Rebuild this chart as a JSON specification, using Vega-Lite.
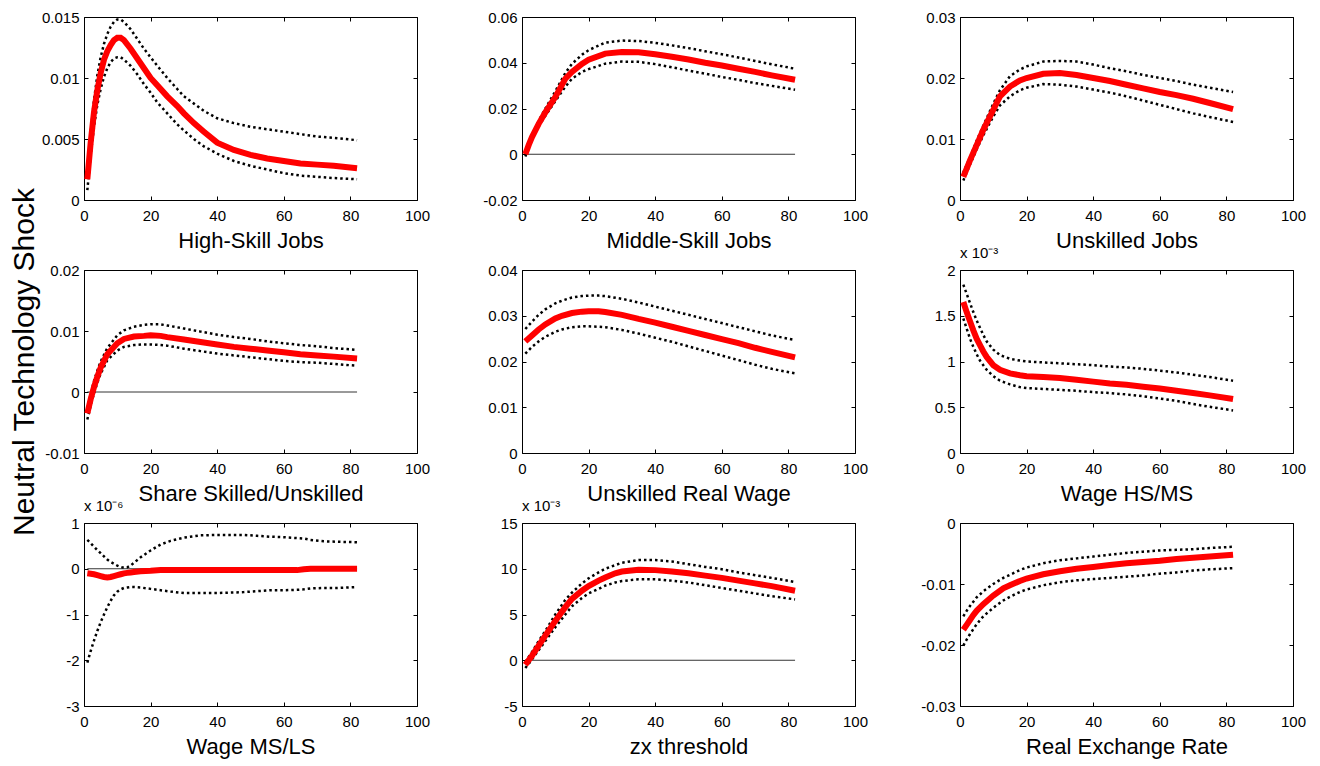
{
"$schema":"https://vega.github.io/schema/vega-lite/v6.json",
"background":"white",
"padding":{"left":9,"top":9,"right":5,"bottom":5},
"columns":3,
"spacing":{"row":70,"column":105},
"bounds":"flush",
"config":{
"view":{"stroke":"black","strokeWidth":1},
"axis":{"domain":false,"grid":false,"tickColor":"black","tickSize":-4,"tickWidth":1,"labelPadding":9,"labelFont":"Liberation Sans","labelFontSize":15,"labelColor":"black","labelFlush":false,"labelOverlap":false,"labelBound":false,"titleFont":"Liberation Sans","titleFontSize":22,"titleFontWeight":"normal","titleColor":"black"},
"axisBottom":{"labelPadding":12,"titlePadding":7},
"axisTop":{"labels":false},
"axisRight":{"labels":false},
"line":{"strokeCap":"butt"}
},
"datasets":{"irf":[
{"p":1,"x":1,"mid":0.0017,"hi":0.0025,"lo":0.0008},{"p":1,"x":2,"mid":0.0047,"hi":0.0055,"lo":0.0037},{"p":1,"x":3,"mid":0.0072,"hi":0.0082,"lo":0.0060},{"p":1,"x":4,"mid":0.0090,"hi":0.0102,"lo":0.0078},{"p":1,"x":5,"mid":0.0104,"hi":0.0117,"lo":0.0091},{"p":1,"x":6,"mid":0.0115,"hi":0.0128,"lo":0.0101},{"p":1,"x":7,"mid":0.0122,"hi":0.0136,"lo":0.0108},{"p":1,"x":8,"mid":0.0127,"hi":0.0142,"lo":0.0113},{"p":1,"x":9,"mid":0.0131,"hi":0.0146,"lo":0.0116},{"p":1,"x":10,"mid":0.0133,"hi":0.0148,"lo":0.0117},{"p":1,"x":11,"mid":0.0133,"hi":0.0148,"lo":0.0117},{"p":1,"x":12,"mid":0.0131,"hi":0.0146,"lo":0.0115},{"p":1,"x":14,"mid":0.0124,"hi":0.0140,"lo":0.0110},{"p":1,"x":16,"mid":0.0116,"hi":0.0132,"lo":0.0103},{"p":1,"x":18,"mid":0.0108,"hi":0.0124,"lo":0.0095},{"p":1,"x":20,"mid":0.0100,"hi":0.0117,"lo":0.0088},{"p":1,"x":22,"mid":0.0094,"hi":0.0110,"lo":0.0080},{"p":1,"x":25,"mid":0.0085,"hi":0.0100,"lo":0.0071},{"p":1,"x":28,"mid":0.0077,"hi":0.0091,"lo":0.0062},{"p":1,"x":30,"mid":0.0071,"hi":0.0085,"lo":0.0057},{"p":1,"x":33,"mid":0.0063,"hi":0.0079,"lo":0.0050},{"p":1,"x":36,"mid":0.0056,"hi":0.0073,"lo":0.0044},{"p":1,"x":40,"mid":0.0047,"hi":0.0067,"lo":0.0038},{"p":1,"x":45,"mid":0.0041,"hi":0.0063,"lo":0.0032},{"p":1,"x":50,"mid":0.0037,"hi":0.0060,"lo":0.0028},{"p":1,"x":55,"mid":0.0034,"hi":0.0058,"lo":0.0025},{"p":1,"x":60,"mid":0.0032,"hi":0.0056,"lo":0.0022},{"p":1,"x":65,"mid":0.0030,"hi":0.0054,"lo":0.0020},{"p":1,"x":70,"mid":0.0029,"hi":0.0052,"lo":0.0019},{"p":1,"x":75,"mid":0.0028,"hi":0.0051,"lo":0.0018},{"p":1,"x":82,"mid":0.0026,"hi":0.0049,"lo":0.0017},
{"p":2,"x":1,"mid":0,"hi":0,"lo":-0.001},{"p":2,"x":2,"mid":0.004,"hi":0.0042,"lo":0.003},{"p":2,"x":3,"mid":0.0075,"hi":0.008,"lo":0.0068},{"p":2,"x":5,"mid":0.0133,"hi":0.0145,"lo":0.0122},{"p":2,"x":7,"mid":0.0183,"hi":0.020,"lo":0.0168},{"p":2,"x":10,"mid":0.0250,"hi":0.0275,"lo":0.0232},{"p":2,"x":13,"mid":0.0330,"hi":0.0355,"lo":0.0295},{"p":2,"x":15,"mid":0.0360,"hi":0.0395,"lo":0.0330},{"p":2,"x":18,"mid":0.0395,"hi":0.0435,"lo":0.0360},{"p":2,"x":20,"mid":0.0413,"hi":0.0455,"lo":0.0372},{"p":2,"x":25,"mid":0.0440,"hi":0.0488,"lo":0.0396},{"p":2,"x":30,"mid":0.0447,"hi":0.0497,"lo":0.0405},{"p":2,"x":35,"mid":0.0446,"hi":0.0495,"lo":0.0404},{"p":2,"x":40,"mid":0.0437,"hi":0.0487,"lo":0.0394},{"p":2,"x":45,"mid":0.0426,"hi":0.0476,"lo":0.0380},{"p":2,"x":50,"mid":0.0414,"hi":0.0464,"lo":0.0366},{"p":2,"x":55,"mid":0.0400,"hi":0.0450,"lo":0.0352},{"p":2,"x":60,"mid":0.0388,"hi":0.0437,"lo":0.0338},{"p":2,"x":65,"mid":0.0374,"hi":0.0423,"lo":0.0325},{"p":2,"x":70,"mid":0.0360,"hi":0.0408,"lo":0.0311},{"p":2,"x":75,"mid":0.0345,"hi":0.0393,"lo":0.0299},{"p":2,"x":82,"mid":0.0326,"hi":0.0374,"lo":0.0282},
{"p":3,"x":1,"mid":0.0038,"hi":0.0045,"lo":0.0032},{"p":3,"x":3,"mid":0.0065,"hi":0.0070,"lo":0.0058},{"p":3,"x":5,"mid":0.0090,"hi":0.0097,"lo":0.0083},{"p":3,"x":7,"mid":0.0115,"hi":0.0122,"lo":0.0106},{"p":3,"x":10,"mid":0.0148,"hi":0.0158,"lo":0.0137},{"p":3,"x":12,"mid":0.0170,"hi":0.0180,"lo":0.0155},{"p":3,"x":15,"mid":0.0186,"hi":0.0203,"lo":0.0170},{"p":3,"x":18,"mid":0.0196,"hi":0.0214,"lo":0.0180},{"p":3,"x":20,"mid":0.0200,"hi":0.0219,"lo":0.0184},{"p":3,"x":25,"mid":0.0207,"hi":0.0227,"lo":0.0190},{"p":3,"x":30,"mid":0.0208,"hi":0.0228,"lo":0.0189},{"p":3,"x":35,"mid":0.0205,"hi":0.0227,"lo":0.0186},{"p":3,"x":40,"mid":0.0200,"hi":0.0222,"lo":0.0181},{"p":3,"x":45,"mid":0.0195,"hi":0.0216,"lo":0.0176},{"p":3,"x":50,"mid":0.0189,"hi":0.0211,"lo":0.0170},{"p":3,"x":55,"mid":0.0183,"hi":0.0205,"lo":0.0163},{"p":3,"x":60,"mid":0.0177,"hi":0.0200,"lo":0.0156},{"p":3,"x":65,"mid":0.0172,"hi":0.0195,"lo":0.0149},{"p":3,"x":70,"mid":0.0166,"hi":0.0189,"lo":0.0142},{"p":3,"x":75,"mid":0.0159,"hi":0.0184,"lo":0.0136},{"p":3,"x":82,"mid":0.0149,"hi":0.0177,"lo":0.0128},
{"p":4,"x":1,"mid":-0.0035,"hi":-0.0027,"lo":-0.0045},{"p":4,"x":2,"mid":-0.0012,"hi":-0.0004,"lo":-0.0022},{"p":4,"x":3,"mid":0.0008,"hi":0.0018,"lo":-0.0002},{"p":4,"x":4,"mid":0.0025,"hi":0.0035,"lo":0.0015},{"p":4,"x":5,"mid":0.0040,"hi":0.0050,"lo":0.0030},{"p":4,"x":7,"mid":0.0062,"hi":0.0072,"lo":0.0052},{"p":4,"x":10,"mid":0.0080,"hi":0.0093,"lo":0.0068},{"p":4,"x":12,"mid":0.0087,"hi":0.0101,"lo":0.0074},{"p":4,"x":15,"mid":0.0091,"hi":0.0107,"lo":0.0077},{"p":4,"x":18,"mid":0.0092,"hi":0.0110,"lo":0.0078},{"p":4,"x":20,"mid":0.0093,"hi":0.0111,"lo":0.0078},{"p":4,"x":23,"mid":0.0092,"hi":0.0111,"lo":0.0077},{"p":4,"x":25,"mid":0.0090,"hi":0.0109,"lo":0.0076},{"p":4,"x":30,"mid":0.0086,"hi":0.0104,"lo":0.0071},{"p":4,"x":35,"mid":0.0082,"hi":0.0099,"lo":0.0067},{"p":4,"x":40,"mid":0.0078,"hi":0.0094,"lo":0.0063},{"p":4,"x":45,"mid":0.0074,"hi":0.0090,"lo":0.0060},{"p":4,"x":50,"mid":0.0071,"hi":0.0087,"lo":0.0057},{"p":4,"x":55,"mid":0.0068,"hi":0.0083,"lo":0.0054},{"p":4,"x":60,"mid":0.0065,"hi":0.0080,"lo":0.0051},{"p":4,"x":65,"mid":0.0062,"hi":0.0077,"lo":0.0049},{"p":4,"x":70,"mid":0.0060,"hi":0.0075,"lo":0.0048},{"p":4,"x":75,"mid":0.0058,"hi":0.0072,"lo":0.0046},{"p":4,"x":82,"mid":0.0055,"hi":0.0069,"lo":0.0043},
{"p":5,"x":1,"mid":0.0244,"hi":0.0271,"lo":0.0217},{"p":5,"x":3,"mid":0.0257,"hi":0.0287,"lo":0.0232},{"p":5,"x":5,"mid":0.0270,"hi":0.0302,"lo":0.0244},{"p":5,"x":7,"mid":0.0281,"hi":0.0314,"lo":0.0254},{"p":5,"x":10,"mid":0.0294,"hi":0.0327,"lo":0.0265},{"p":5,"x":12,"mid":0.0300,"hi":0.0333,"lo":0.0270},{"p":5,"x":15,"mid":0.0306,"hi":0.0340,"lo":0.0275},{"p":5,"x":18,"mid":0.0309,"hi":0.0343,"lo":0.0277},{"p":5,"x":20,"mid":0.0310,"hi":0.0344,"lo":0.0277},{"p":5,"x":23,"mid":0.0310,"hi":0.0344,"lo":0.0276},{"p":5,"x":25,"mid":0.0308,"hi":0.0343,"lo":0.0275},{"p":5,"x":30,"mid":0.0302,"hi":0.0337,"lo":0.0269},{"p":5,"x":35,"mid":0.0293,"hi":0.0329,"lo":0.0261},{"p":5,"x":40,"mid":0.0285,"hi":0.0320,"lo":0.0252},{"p":5,"x":45,"mid":0.0276,"hi":0.0311,"lo":0.0243},{"p":5,"x":50,"mid":0.0267,"hi":0.0302,"lo":0.0233},{"p":5,"x":55,"mid":0.0258,"hi":0.0293,"lo":0.0223},{"p":5,"x":60,"mid":0.0249,"hi":0.0284,"lo":0.0213},{"p":5,"x":65,"mid":0.0240,"hi":0.0275,"lo":0.0203},{"p":5,"x":70,"mid":0.0230,"hi":0.0266,"lo":0.0193},{"p":5,"x":75,"mid":0.0221,"hi":0.0257,"lo":0.0184},{"p":5,"x":82,"mid":0.0209,"hi":0.0247,"lo":0.0174},
{"p":6,"x":1,"mid":1.65,"hi":1.84,"lo":1.47},{"p":6,"x":2,"mid":1.54,"hi":1.74,"lo":1.36},{"p":6,"x":3,"mid":1.44,"hi":1.64,"lo":1.25},{"p":6,"x":4,"mid":1.34,"hi":1.54,"lo":1.16},{"p":6,"x":5,"mid":1.25,"hi":1.45,"lo":1.08},{"p":6,"x":6,"mid":1.18,"hi":1.37,"lo":1.01},{"p":6,"x":7,"mid":1.11,"hi":1.29,"lo":0.96},{"p":6,"x":8,"mid":1.05,"hi":1.22,"lo":0.91},{"p":6,"x":10,"mid":0.96,"hi":1.13,"lo":0.84},{"p":6,"x":12,"mid":0.91,"hi":1.07,"lo":0.79},{"p":6,"x":15,"mid":0.87,"hi":1.03,"lo":0.75},{"p":6,"x":18,"mid":0.85,"hi":1.01,"lo":0.72},{"p":6,"x":20,"mid":0.84,"hi":1.00,"lo":0.71},{"p":6,"x":25,"mid":0.83,"hi":0.99,"lo":0.70},{"p":6,"x":30,"mid":0.82,"hi":0.98,"lo":0.69},{"p":6,"x":35,"mid":0.80,"hi":0.97,"lo":0.68},{"p":6,"x":40,"mid":0.78,"hi":0.96,"lo":0.665},{"p":6,"x":45,"mid":0.76,"hi":0.945,"lo":0.655},{"p":6,"x":50,"mid":0.745,"hi":0.935,"lo":0.64},{"p":6,"x":55,"mid":0.725,"hi":0.92,"lo":0.62},{"p":6,"x":60,"mid":0.705,"hi":0.90,"lo":0.595},{"p":6,"x":65,"mid":0.68,"hi":0.88,"lo":0.57},{"p":6,"x":70,"mid":0.655,"hi":0.855,"lo":0.535},{"p":6,"x":75,"mid":0.63,"hi":0.83,"lo":0.505},{"p":6,"x":82,"mid":0.59,"hi":0.79,"lo":0.465},
{"p":7,"x":1,"mid":-0.10,"hi":0.63,"lo":-2.05},{"p":7,"x":2,"mid":-0.11,"hi":0.56,"lo":-1.80},{"p":7,"x":3,"mid":-0.12,"hi":0.48,"lo":-1.57},{"p":7,"x":4,"mid":-0.14,"hi":0.41,"lo":-1.36},{"p":7,"x":5,"mid":-0.16,"hi":0.34,"lo":-1.17},{"p":7,"x":6,"mid":-0.18,"hi":0.27,"lo":-1.00},{"p":7,"x":7,"mid":-0.19,"hi":0.20,"lo":-0.84},{"p":7,"x":8,"mid":-0.18,"hi":0.15,"lo":-0.70},{"p":7,"x":9,"mid":-0.16,"hi":0.11,"lo":-0.58},{"p":7,"x":10,"mid":-0.14,"hi":0.07,"lo":-0.50},{"p":7,"x":11,"mid":-0.12,"hi":0.04,"lo":-0.45},{"p":7,"x":12,"mid":-0.10,"hi":0.02,"lo":-0.42},{"p":7,"x":13,"mid":-0.09,"hi":0.03,"lo":-0.41},{"p":7,"x":14,"mid":-0.08,"hi":0.07,"lo":-0.40},{"p":7,"x":15,"mid":-0.07,"hi":0.13,"lo":-0.40},{"p":7,"x":17,"mid":-0.055,"hi":0.25,"lo":-0.41},{"p":7,"x":20,"mid":-0.045,"hi":0.40,"lo":-0.44},{"p":7,"x":23,"mid":-0.03,"hi":0.53,"lo":-0.47},{"p":7,"x":26,"mid":-0.03,"hi":0.61,"lo":-0.50},{"p":7,"x":30,"mid":-0.03,"hi":0.68,"lo":-0.53},{"p":7,"x":35,"mid":-0.03,"hi":0.73,"lo":-0.53},{"p":7,"x":40,"mid":-0.03,"hi":0.74,"lo":-0.53},{"p":7,"x":45,"mid":-0.03,"hi":0.74,"lo":-0.52},{"p":7,"x":48,"mid":-0.03,"hi":0.74,"lo":-0.51},{"p":7,"x":52,"mid":-0.03,"hi":0.72,"lo":-0.49},{"p":7,"x":56,"mid":-0.03,"hi":0.70,"lo":-0.47},{"p":7,"x":60,"mid":-0.03,"hi":0.69,"lo":-0.47},{"p":7,"x":64,"mid":-0.03,"hi":0.67,"lo":-0.46},{"p":7,"x":66,"mid":-0.01,"hi":0.66,"lo":-0.45},{"p":7,"x":68,"mid":0.0,"hi":0.63,"lo":-0.43},{"p":7,"x":72,"mid":0.0,"hi":0.60,"lo":-0.42},{"p":7,"x":76,"mid":0.0,"hi":0.59,"lo":-0.42},{"p":7,"x":82,"mid":0.0,"hi":0.58,"lo":-0.40},
{"p":8,"x":1,"mid":-0.5,"hi":-0.2,"lo":-0.85},{"p":8,"x":2,"mid":0.0,"hi":0.35,"lo":-0.4},{"p":8,"x":3,"mid":0.5,"hi":0.9,"lo":0.1},{"p":8,"x":5,"mid":1.6,"hi":2.1,"lo":1.1},{"p":8,"x":7,"mid":2.7,"hi":3.2,"lo":2.1},{"p":8,"x":10,"mid":4.3,"hi":5.0,"lo":3.6},{"p":8,"x":13,"mid":5.8,"hi":6.6,"lo":5.0},{"p":8,"x":15,"mid":6.7,"hi":7.4,"lo":5.9},{"p":8,"x":18,"mid":7.6,"hi":8.4,"lo":6.8},{"p":8,"x":20,"mid":8.1,"hi":8.95,"lo":7.3},{"p":8,"x":23,"mid":8.7,"hi":9.6,"lo":7.8},{"p":8,"x":25,"mid":9.05,"hi":10.0,"lo":8.15},{"p":8,"x":28,"mid":9.5,"hi":10.4,"lo":8.5},{"p":8,"x":30,"mid":9.7,"hi":10.65,"lo":8.65},{"p":8,"x":35,"mid":9.9,"hi":10.95,"lo":8.85},{"p":8,"x":40,"mid":9.85,"hi":10.95,"lo":8.85},{"p":8,"x":45,"mid":9.7,"hi":10.8,"lo":8.7},{"p":8,"x":50,"mid":9.5,"hi":10.5,"lo":8.5},{"p":8,"x":55,"mid":9.25,"hi":10.2,"lo":8.2},{"p":8,"x":60,"mid":9.0,"hi":9.95,"lo":7.9},{"p":8,"x":65,"mid":8.7,"hi":9.6,"lo":7.6},{"p":8,"x":70,"mid":8.4,"hi":9.3,"lo":7.3},{"p":8,"x":75,"mid":8.1,"hi":9.0,"lo":7.0},{"p":8,"x":82,"mid":7.6,"hi":8.55,"lo":6.65},
{"p":9,"x":1,"mid":-0.0175,"hi":-0.0153,"lo":-0.0201},{"p":9,"x":2,"mid":-0.0167,"hi":-0.0144,"lo":-0.0191},{"p":9,"x":3,"mid":-0.0159,"hi":-0.0136,"lo":-0.0182},{"p":9,"x":4,"mid":-0.0151,"hi":-0.0129,"lo":-0.0174},{"p":9,"x":5,"mid":-0.0144,"hi":-0.0122,"lo":-0.0166},{"p":9,"x":7,"mid":-0.0133,"hi":-0.0112,"lo":-0.0153},{"p":9,"x":10,"mid":-0.0119,"hi":-0.0100,"lo":-0.0139},{"p":9,"x":13,"mid":-0.0107,"hi":-0.0090,"lo":-0.0127},{"p":9,"x":15,"mid":-0.0102,"hi":-0.0085,"lo":-0.0121},{"p":9,"x":18,"mid":-0.0095,"hi":-0.0077,"lo":-0.0113},{"p":9,"x":20,"mid":-0.0091,"hi":-0.0073,"lo":-0.0109},{"p":9,"x":25,"mid":-0.0084,"hi":-0.0066,"lo":-0.0102},{"p":9,"x":30,"mid":-0.0079,"hi":-0.0061,"lo":-0.0097},{"p":9,"x":35,"mid":-0.0075,"hi":-0.0058,"lo":-0.0094},{"p":9,"x":40,"mid":-0.0072,"hi":-0.0055,"lo":-0.0092},{"p":9,"x":45,"mid":-0.0069,"hi":-0.0052,"lo":-0.0090},{"p":9,"x":50,"mid":-0.0066,"hi":-0.0049,"lo":-0.0088},{"p":9,"x":55,"mid":-0.0064,"hi":-0.0047,"lo":-0.0086},{"p":9,"x":60,"mid":-0.0062,"hi":-0.0045,"lo":-0.0083},{"p":9,"x":65,"mid":-0.0059,"hi":-0.0044,"lo":-0.0081},{"p":9,"x":70,"mid":-0.0057,"hi":-0.0043,"lo":-0.0078},{"p":9,"x":75,"mid":-0.0055,"hi":-0.0041,"lo":-0.0076},{"p":9,"x":82,"mid":-0.0052,"hi":-0.0039,"lo":-0.0074}
]},
"concat":[
{"width":333,"height":183,"data":{"name":"irf"},"transform":[{"filter":"datum.p===1"}],
"layer":[
{"mark":{"type":"line","color":"black","strokeWidth":2.5,"strokeDash":[2.5,3]},"encoding":{"x":{"field":"x","type":"quantitative","scale":{"domain":[0,100],"nice":false},"axis":{"orient":"bottom","values":[0,20,40,60,80,100],"title":"High-Skill Jobs","labelExpr":"''+datum.value"}},"y":{"field":"hi","type":"quantitative","scale":{"domain":[0,0.015],"nice":false,"zero":false},"axis":{"orient":"left","values":[0,0.005,0.01,0.015],"title":null,"labelExpr":"''+datum.value"}}}},
{"mark":{"type":"line","color":"black","strokeWidth":2.5,"strokeDash":[2.5,3]},"encoding":{"x":{"field":"x","type":"quantitative","axis":{"orient":"top","values":[0,20,40,60,80,100],"title":null}},"y":{"field":"lo","type":"quantitative","axis":{"orient":"right","values":[0,0.005,0.01,0.015],"title":null}}}},
{"mark":{"type":"line","color":"#ff0000","strokeWidth":6},"encoding":{"x":{"field":"x","type":"quantitative","axis":null},"y":{"field":"mid","type":"quantitative","axis":null}}}
],"resolve":{"axis":{"x":"independent","y":"independent"}}},
{"width":333,"height":183,"data":{"name":"irf"},"transform":[{"filter":"datum.p===2"}],
"layer":[
{"data":{"values":[{}]},"mark":{"type":"rule","color":"black","strokeWidth":0.8},"encoding":{"x":{"datum":1,"type":"quantitative","axis":null},"x2":{"datum":82},"y":{"datum":0,"type":"quantitative","axis":null}}},
{"mark":{"type":"line","color":"black","strokeWidth":2.5,"strokeDash":[2.5,3]},"encoding":{"x":{"field":"x","type":"quantitative","scale":{"domain":[0,100],"nice":false},"axis":{"orient":"bottom","values":[0,20,40,60,80,100],"title":"Middle-Skill Jobs","labelExpr":"''+datum.value"}},"y":{"field":"hi","type":"quantitative","scale":{"domain":[-0.02,0.06],"nice":false,"zero":false},"axis":{"orient":"left","values":[-0.02,0,0.02,0.04,0.06],"title":null,"labelExpr":"''+datum.value"}}}},
{"mark":{"type":"line","color":"black","strokeWidth":2.5,"strokeDash":[2.5,3]},"encoding":{"x":{"field":"x","type":"quantitative","axis":{"orient":"top","values":[0,20,40,60,80,100],"title":null}},"y":{"field":"lo","type":"quantitative","axis":{"orient":"right","values":[-0.02,0,0.02,0.04,0.06],"title":null}}}},
{"mark":{"type":"line","color":"#ff0000","strokeWidth":6},"encoding":{"x":{"field":"x","type":"quantitative","axis":null},"y":{"field":"mid","type":"quantitative","axis":null}}}
],"resolve":{"axis":{"x":"independent","y":"independent"}}},
{"width":333,"height":183,"data":{"name":"irf"},"transform":[{"filter":"datum.p===3"}],
"layer":[
{"mark":{"type":"line","color":"black","strokeWidth":2.5,"strokeDash":[2.5,3]},"encoding":{"x":{"field":"x","type":"quantitative","scale":{"domain":[0,100],"nice":false},"axis":{"orient":"bottom","values":[0,20,40,60,80,100],"title":"Unskilled Jobs","labelExpr":"''+datum.value"}},"y":{"field":"hi","type":"quantitative","scale":{"domain":[0,0.03],"nice":false,"zero":false},"axis":{"orient":"left","values":[0,0.01,0.02,0.03],"title":null,"labelExpr":"''+datum.value"}}}},
{"mark":{"type":"line","color":"black","strokeWidth":2.5,"strokeDash":[2.5,3]},"encoding":{"x":{"field":"x","type":"quantitative","axis":{"orient":"top","values":[0,20,40,60,80,100],"title":null}},"y":{"field":"lo","type":"quantitative","axis":{"orient":"right","values":[0,0.01,0.02,0.03],"title":null}}}},
{"mark":{"type":"line","color":"#ff0000","strokeWidth":6},"encoding":{"x":{"field":"x","type":"quantitative","axis":null},"y":{"field":"mid","type":"quantitative","axis":null}}}
],"resolve":{"axis":{"x":"independent","y":"independent"}}},
{"width":333,"height":183,"data":{"name":"irf"},"transform":[{"filter":"datum.p===4"}],
"layer":[
{"data":{"values":[{}]},"mark":{"type":"rule","color":"black","strokeWidth":0.8},"encoding":{"x":{"datum":1,"type":"quantitative","axis":null},"x2":{"datum":82},"y":{"datum":0,"type":"quantitative","axis":null}}},
{"mark":{"type":"line","color":"black","strokeWidth":2.5,"strokeDash":[2.5,3]},"encoding":{"x":{"field":"x","type":"quantitative","scale":{"domain":[0,100],"nice":false},"axis":{"orient":"bottom","values":[0,20,40,60,80,100],"title":"Share Skilled/Unskilled","labelExpr":"''+datum.value"}},"y":{"field":"hi","type":"quantitative","scale":{"domain":[-0.01,0.02],"nice":false,"zero":false},"axis":{"orient":"left","values":[-0.01,0,0.01,0.02],"title":"Neutral Technology Shock","titleFont":"Liberation Sans","titleFontSize":30,"titlePadding":5,"labelExpr":"''+datum.value"}}}},
{"mark":{"type":"line","color":"black","strokeWidth":2.5,"strokeDash":[2.5,3]},"encoding":{"x":{"field":"x","type":"quantitative","axis":{"orient":"top","values":[0,20,40,60,80,100],"title":null}},"y":{"field":"lo","type":"quantitative","axis":{"orient":"right","values":[-0.01,0,0.01,0.02],"title":null}}}},
{"mark":{"type":"line","color":"#ff0000","strokeWidth":6},"encoding":{"x":{"field":"x","type":"quantitative","axis":null},"y":{"field":"mid","type":"quantitative","axis":null}}}
],"resolve":{"axis":{"x":"independent","y":"independent"}}},
{"width":333,"height":183,"data":{"name":"irf"},"transform":[{"filter":"datum.p===5"}],
"layer":[
{"mark":{"type":"line","color":"black","strokeWidth":2.5,"strokeDash":[2.5,3]},"encoding":{"x":{"field":"x","type":"quantitative","scale":{"domain":[0,100],"nice":false},"axis":{"orient":"bottom","values":[0,20,40,60,80,100],"title":"Unskilled Real Wage","labelExpr":"''+datum.value"}},"y":{"field":"hi","type":"quantitative","scale":{"domain":[0,0.04],"nice":false,"zero":false},"axis":{"orient":"left","values":[0,0.01,0.02,0.03,0.04],"title":null,"labelExpr":"''+datum.value"}}}},
{"mark":{"type":"line","color":"black","strokeWidth":2.5,"strokeDash":[2.5,3]},"encoding":{"x":{"field":"x","type":"quantitative","axis":{"orient":"top","values":[0,20,40,60,80,100],"title":null}},"y":{"field":"lo","type":"quantitative","axis":{"orient":"right","values":[0,0.01,0.02,0.03,0.04],"title":null}}}},
{"mark":{"type":"line","color":"#ff0000","strokeWidth":6},"encoding":{"x":{"field":"x","type":"quantitative","axis":null},"y":{"field":"mid","type":"quantitative","axis":null}}}
],"resolve":{"axis":{"x":"independent","y":"independent"}}},
{"width":333,"height":183,"data":{"name":"irf"},"transform":[{"filter":"datum.p===6"}],
"title":{"text":"x 10⁻³","anchor":"start","frame":"group","font":"Liberation Sans","fontSize":15,"fontWeight":"normal","color":"black","offset":2},
"layer":[
{"mark":{"type":"line","color":"black","strokeWidth":2.5,"strokeDash":[2.5,3]},"encoding":{"x":{"field":"x","type":"quantitative","scale":{"domain":[0,100],"nice":false},"axis":{"orient":"bottom","values":[0,20,40,60,80,100],"title":"Wage HS/MS","labelExpr":"''+datum.value"}},"y":{"field":"hi","type":"quantitative","scale":{"domain":[0,2],"nice":false,"zero":false},"axis":{"orient":"left","values":[0,0.5,1,1.5,2],"title":null,"labelExpr":"''+datum.value"}}}},
{"mark":{"type":"line","color":"black","strokeWidth":2.5,"strokeDash":[2.5,3]},"encoding":{"x":{"field":"x","type":"quantitative","axis":{"orient":"top","values":[0,20,40,60,80,100],"title":null}},"y":{"field":"lo","type":"quantitative","axis":{"orient":"right","values":[0,0.5,1,1.5,2],"title":null}}}},
{"mark":{"type":"line","color":"#ff0000","strokeWidth":6},"encoding":{"x":{"field":"x","type":"quantitative","axis":null},"y":{"field":"mid","type":"quantitative","axis":null}}}
],"resolve":{"axis":{"x":"independent","y":"independent"}}},
{"width":333,"height":183,"data":{"name":"irf"},"transform":[{"filter":"datum.p===7"}],
"title":{"text":"x 10⁻⁶","anchor":"start","frame":"group","font":"Liberation Sans","fontSize":15,"fontWeight":"normal","color":"black","offset":2},
"layer":[
{"data":{"values":[{}]},"mark":{"type":"rule","color":"black","strokeWidth":0.8},"encoding":{"x":{"datum":1,"type":"quantitative","axis":null},"x2":{"datum":82},"y":{"datum":0,"type":"quantitative","axis":null}}},
{"mark":{"type":"line","color":"black","strokeWidth":2.5,"strokeDash":[2.5,3]},"encoding":{"x":{"field":"x","type":"quantitative","scale":{"domain":[0,100],"nice":false},"axis":{"orient":"bottom","values":[0,20,40,60,80,100],"title":"Wage MS/LS","labelExpr":"''+datum.value"}},"y":{"field":"hi","type":"quantitative","scale":{"domain":[-3,1],"nice":false,"zero":false},"axis":{"orient":"left","values":[-3,-2,-1,0,1],"title":null,"labelExpr":"''+datum.value"}}}},
{"mark":{"type":"line","color":"black","strokeWidth":2.5,"strokeDash":[2.5,3]},"encoding":{"x":{"field":"x","type":"quantitative","axis":{"orient":"top","values":[0,20,40,60,80,100],"title":null}},"y":{"field":"lo","type":"quantitative","axis":{"orient":"right","values":[-3,-2,-1,0,1],"title":null}}}},
{"mark":{"type":"line","color":"#ff0000","strokeWidth":6},"encoding":{"x":{"field":"x","type":"quantitative","axis":null},"y":{"field":"mid","type":"quantitative","axis":null}}}
],"resolve":{"axis":{"x":"independent","y":"independent"}}},
{"width":333,"height":183,"data":{"name":"irf"},"transform":[{"filter":"datum.p===8"}],
"title":{"text":"x 10⁻³","anchor":"start","frame":"group","font":"Liberation Sans","fontSize":15,"fontWeight":"normal","color":"black","offset":2},
"layer":[
{"data":{"values":[{}]},"mark":{"type":"rule","color":"black","strokeWidth":0.8},"encoding":{"x":{"datum":1,"type":"quantitative","axis":null},"x2":{"datum":82},"y":{"datum":0,"type":"quantitative","axis":null}}},
{"mark":{"type":"line","color":"black","strokeWidth":2.5,"strokeDash":[2.5,3]},"encoding":{"x":{"field":"x","type":"quantitative","scale":{"domain":[0,100],"nice":false},"axis":{"orient":"bottom","values":[0,20,40,60,80,100],"title":"zx threshold","labelExpr":"''+datum.value"}},"y":{"field":"hi","type":"quantitative","scale":{"domain":[-5,15],"nice":false,"zero":false},"axis":{"orient":"left","values":[-5,0,5,10,15],"title":null,"labelExpr":"''+datum.value"}}}},
{"mark":{"type":"line","color":"black","strokeWidth":2.5,"strokeDash":[2.5,3]},"encoding":{"x":{"field":"x","type":"quantitative","axis":{"orient":"top","values":[0,20,40,60,80,100],"title":null}},"y":{"field":"lo","type":"quantitative","axis":{"orient":"right","values":[-5,0,5,10,15],"title":null}}}},
{"mark":{"type":"line","color":"#ff0000","strokeWidth":6},"encoding":{"x":{"field":"x","type":"quantitative","axis":null},"y":{"field":"mid","type":"quantitative","axis":null}}}
],"resolve":{"axis":{"x":"independent","y":"independent"}}},
{"width":333,"height":183,"data":{"name":"irf"},"transform":[{"filter":"datum.p===9"}],
"layer":[
{"mark":{"type":"line","color":"black","strokeWidth":2.5,"strokeDash":[2.5,3]},"encoding":{"x":{"field":"x","type":"quantitative","scale":{"domain":[0,100],"nice":false},"axis":{"orient":"bottom","values":[0,20,40,60,80,100],"title":"Real Exchange Rate","labelExpr":"''+datum.value"}},"y":{"field":"hi","type":"quantitative","scale":{"domain":[-0.03,0],"nice":false,"zero":false},"axis":{"orient":"left","values":[-0.03,-0.02,-0.01,0],"title":null,"labelExpr":"''+datum.value"}}}},
{"mark":{"type":"line","color":"black","strokeWidth":2.5,"strokeDash":[2.5,3]},"encoding":{"x":{"field":"x","type":"quantitative","axis":{"orient":"top","values":[0,20,40,60,80,100],"title":null}},"y":{"field":"lo","type":"quantitative","axis":{"orient":"right","values":[-0.03,-0.02,-0.01,0],"title":null}}}},
{"mark":{"type":"line","color":"#ff0000","strokeWidth":6},"encoding":{"x":{"field":"x","type":"quantitative","axis":null},"y":{"field":"mid","type":"quantitative","axis":null}}}
],"resolve":{"axis":{"x":"independent","y":"independent"}}}
]
}
